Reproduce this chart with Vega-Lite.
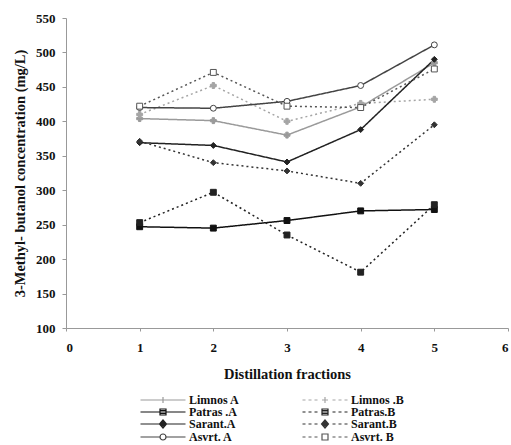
{
  "$schema": "https://vega.github.io/schema/vega-lite/v6.json",
  "width": 442,
  "height": 310,
  "autosize": {"type": "none"},
  "padding": {"left": 66, "top": 18, "right": 3, "bottom": 117},
  "background": "white",
  "config": {
    "view": {"stroke": null},
    "font": "Liberation Serif",
    "axis": {
      "grid": false,
      "domainColor": "#999",
      "tickColor": "#999",
      "labelFont": "Liberation Serif",
      "labelFontWeight": "bold",
      "labelFontSize": 13,
      "labelColor": "#111",
      "titleFont": "Liberation Serif",
      "titleFontWeight": "bold",
      "titleFontSize": 14.5,
      "titleColor": "#111"
    }
  },
  "data": {
    "values": [
      {"series": "Limnos A", "fraction": 1, "conc": 404},
      {"series": "Limnos A", "fraction": 2, "conc": 401},
      {"series": "Limnos A", "fraction": 3, "conc": 380},
      {"series": "Limnos A", "fraction": 4, "conc": 421},
      {"series": "Limnos A", "fraction": 5, "conc": 485},
      {"series": "Limnos .B", "fraction": 1, "conc": 410},
      {"series": "Limnos .B", "fraction": 2, "conc": 452},
      {"series": "Limnos .B", "fraction": 3, "conc": 400},
      {"series": "Limnos .B", "fraction": 4, "conc": 426},
      {"series": "Limnos .B", "fraction": 5, "conc": 432},
      {"series": "Patras .A", "fraction": 1, "conc": 247},
      {"series": "Patras .A", "fraction": 2, "conc": 245},
      {"series": "Patras .A", "fraction": 3, "conc": 256},
      {"series": "Patras .A", "fraction": 4, "conc": 270},
      {"series": "Patras .A", "fraction": 5, "conc": 272},
      {"series": "Patras.B", "fraction": 1, "conc": 253},
      {"series": "Patras.B", "fraction": 2, "conc": 297},
      {"series": "Patras.B", "fraction": 3, "conc": 235},
      {"series": "Patras.B", "fraction": 4, "conc": 181},
      {"series": "Patras.B", "fraction": 5, "conc": 279},
      {"series": "Sarant.A", "fraction": 1, "conc": 369},
      {"series": "Sarant.A", "fraction": 2, "conc": 365},
      {"series": "Sarant.A", "fraction": 3, "conc": 341},
      {"series": "Sarant.A", "fraction": 4, "conc": 388},
      {"series": "Sarant.A", "fraction": 5, "conc": 490},
      {"series": "Sarant.B", "fraction": 1, "conc": 371},
      {"series": "Sarant.B", "fraction": 2, "conc": 340},
      {"series": "Sarant.B", "fraction": 3, "conc": 328},
      {"series": "Sarant.B", "fraction": 4, "conc": 310},
      {"series": "Sarant.B", "fraction": 5, "conc": 395},
      {"series": "Asvrt. A", "fraction": 1, "conc": 420},
      {"series": "Asvrt. A", "fraction": 2, "conc": 419},
      {"series": "Asvrt. A", "fraction": 3, "conc": 429},
      {"series": "Asvrt. A", "fraction": 4, "conc": 452},
      {"series": "Asvrt. A", "fraction": 5, "conc": 511},
      {"series": "Asvrt. B", "fraction": 1, "conc": 422},
      {"series": "Asvrt. B", "fraction": 2, "conc": 471},
      {"series": "Asvrt. B", "fraction": 3, "conc": 422},
      {"series": "Asvrt. B", "fraction": 4, "conc": 420},
      {"series": "Asvrt. B", "fraction": 5, "conc": 476}
    ]
  },
  "encoding": {
    "x": {
      "field": "fraction",
      "type": "quantitative",
      "scale": {"domain": [0, 6], "nice": false},
      "axis": {"values": [0, 1, 2, 3, 4, 5, 6], "format": "d", "title": "Distillation fractions", "tickSize": 3, "labelPadding": 10, "titlePadding": 13}
    },
    "y": {
      "field": "conc",
      "type": "quantitative",
      "scale": {"domain": [100, 550], "nice": false, "zero": false},
      "axis": {"values": [100, 150, 200, 250, 300, 350, 400, 450, 500, 550], "title": "3-Methyl- butanol concentration (mg/L)", "tickSize": 4, "labelPadding": 7, "titlePadding": 8}
    }
  },
  "resolve": {"scale": {"shape": "independent"}, "legend": {"shape": "independent", "color": "independent"}},
  "layer": [
    {
      "mark": {"type": "line", "strokeWidth": 1.5},
      "encoding": {
        "stroke": {
          "field": "series",
          "type": "nominal",
          "scale": {
            "domain": ["Limnos A", "Patras .A", "Sarant.A", "Asvrt. A", "Limnos .B", "Patras.B", "Sarant.B", "Asvrt. B"],
            "range": ["#9a9a9a", "#111111", "#222222", "#444444", "#a5a5a5", "#222222", "#333333", "#555555"]
          },
          "legend": null
        },
        "strokeDash": {
          "field": "series",
          "type": "nominal",
          "scale": {
            "domain": ["Limnos A", "Patras .A", "Sarant.A", "Asvrt. A", "Limnos .B", "Patras.B", "Sarant.B", "Asvrt. B"],
            "range": [[1, 0], [1, 0], [1, 0], [1, 0], [2, 3], [2, 3], [2, 3], [2, 3]]
          },
          "legend": null
        }
      }
    },
    {
      "mark": {"type": "point", "filled": true, "size": 35, "strokeWidth": 1, "opacity": 1},
      "encoding": {
        "shape": {
          "field": "series",
          "type": "nominal",
          "scale": {
            "domain": ["Limnos A", "Patras .A", "Sarant.A", "Asvrt. A", "Limnos .B", "Patras.B", "Sarant.B", "Asvrt. B"],
            "range": ["cross", "square", "diamond", "circle", "cross", "square", "diamond", "square"]
          },
          "legend": null
        },
        "fill": {
          "field": "series",
          "type": "nominal",
          "scale": {
            "domain": ["Limnos A", "Patras .A", "Sarant.A", "Asvrt. A", "Limnos .B", "Patras.B", "Sarant.B", "Asvrt. B"],
            "range": ["#9a9a9a", "#111111", "#222222", "#ffffff", "#a5a5a5", "#222222", "#333333", "#ffffff"]
          },
          "legend": null
        },
        "stroke": {
          "field": "series",
          "type": "nominal",
          "scale": {
            "domain": ["Limnos A", "Patras .A", "Sarant.A", "Asvrt. A", "Limnos .B", "Patras.B", "Sarant.B", "Asvrt. B"],
            "range": ["#9a9a9a", "#111111", "#222222", "#444444", "#a5a5a5", "#222222", "#333333", "#555555"]
          },
          "legend": null
        }
      }
    },
    {
      "mark": {"type": "point", "filled": false, "opacity": 0},
      "encoding": {
        "shape": {
          "field": "series",
          "type": "nominal",
          "scale": {
            "domain": ["Limnos A", "Limnos .B", "Patras .A", "Patras.B", "Sarant.A", "Sarant.B", "Asvrt. A", "Asvrt. B"],
            "range": [
              "M-4.5,0H4.5M0,-0.6V0.6",
              "M-4.5,0H-3.9M-3.3,0H-2.7M-2.1,0H-1.5M-0.6,0H0.6M0,-0.6V0.6M1.5,0H2.1M2.7,0H3.3M3.9,0H4.5",
              "M-4.5,0H4.5M-0.6,-0.6H0.6V0.6H-0.6ZM-0.6,-0.3H0.6M-0.6,0.3H0.6",
              "M-4.5,0H-3.9M-3.3,0H-2.7M-2.1,0H-1.5M1.5,0H2.1M2.7,0H3.3M3.9,0H4.5M-0.6,-0.6H0.6V0.6H-0.6ZM-0.6,-0.3H0.6M-0.6,0H0.6M-0.6,0.3H0.6",
              "M-4.5,0H4.5M0,-0.8L0.7,0L0,0.8L-0.7,0ZM-0.35,-0.4H0.35M-0.55,-0.2H0.55M-0.55,0.2H0.55M-0.35,0.4H0.35",
              "M-4.5,0H-3.9M-3.3,0H-2.7M-2.1,0H-1.5M1.5,0H2.1M2.7,0H3.3M3.9,0H4.5M0,-0.8L0.7,0L0,0.8L-0.7,0ZM-0.35,-0.4H0.35M-0.55,-0.2H0.55M-0.7,0H0.7M-0.55,0.2H0.55M-0.35,0.4H0.35",
              "M-4.5,0H-0.6M0.6,0H4.5M0.6,0A0.6,0.6,0,1,1,-0.6,0A0.6,0.6,0,1,1,0.6,0Z",
              "M-4.5,0H-3.9M-3.3,0H-2.7M-2.1,0H-1.5M1.5,0H2.1M2.7,0H3.3M3.9,0H4.5M-0.6,-0.6H0.6V0.6H-0.6Z"
            ]
          },
          "legend": {
            "title": null,
            "orient": "none",
            "direction": "horizontal",
            "legendX": 91,
            "legendY": 376,
            "columns": 2,
            "columnPadding": 60,
            "rowPadding": -4.5,
            "symbolSize": 100,
            "symbolOpacity": 1,
            "symbolStrokeWidth": 1.2,
            "symbolFillColor": "transparent",
            "labelOffset": 20,
            "labelFont": "Liberation Serif",
            "labelFontSize": 12,
            "labelFontWeight": "bold",
            "labelColor": "#111"
          }
        },
        "color": {
          "field": "series",
          "type": "nominal",
          "scale": {
            "domain": ["Limnos A", "Limnos .B", "Patras .A", "Patras.B", "Sarant.A", "Sarant.B", "Asvrt. A", "Asvrt. B"],
            "range": ["#9a9a9a", "#a5a5a5", "#111111", "#222222", "#222222", "#333333", "#444444", "#555555"]
          },
          "legend": {
            "title": null,
            "orient": "none",
            "direction": "horizontal",
            "legendX": 91,
            "legendY": 376,
            "columns": 2,
            "columnPadding": 60,
            "rowPadding": -4.5,
            "symbolSize": 100,
            "symbolOpacity": 1,
            "symbolStrokeWidth": 1.2,
            "symbolFillColor": "transparent",
            "labelOffset": 20,
            "labelFont": "Liberation Serif",
            "labelFontSize": 12,
            "labelFontWeight": "bold",
            "labelColor": "#111"
          }
        }
      }
    }
  ]
}
